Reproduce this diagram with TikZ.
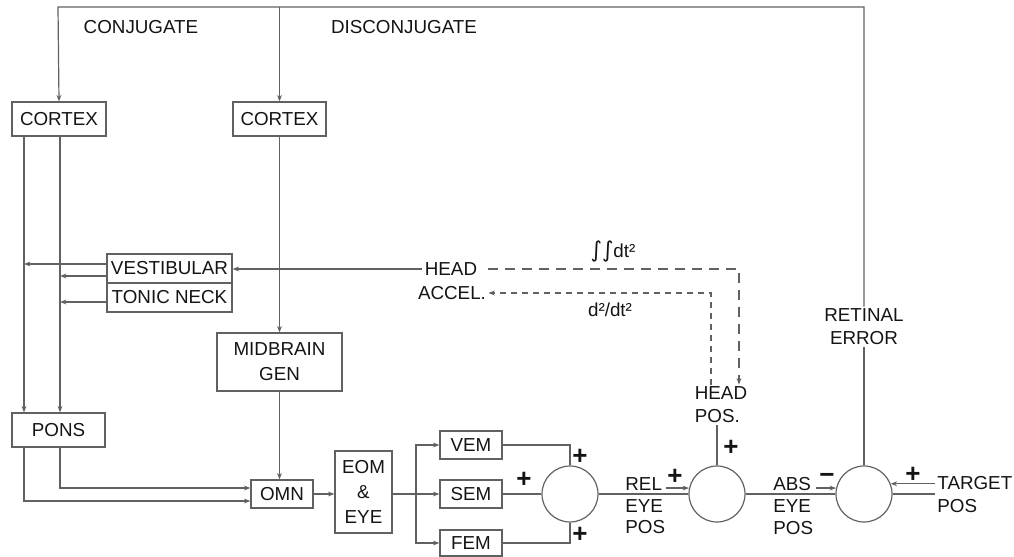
\documentclass[tikz,border=0pt]{standalone}
\usepackage{fontspec}
\setmainfont{Liberation Sans}
\newfontfamily\dejavu{DejaVu Sans}
\usetikzlibrary{arrows.meta,calc}
\definecolor{linec}{gray}{0.38}
\definecolor{txtc}{gray}{0.08}
\begin{document}
\begin{tikzpicture}[x=0.5pt,y=-0.5pt,
  every node/.style={font=\fontsize{9.4}{11.5}\selectfont, text=txtc},
  bx/.style={draw=linec, line width=0.6pt, inner sep=0pt, align=center},
  sum/.style={draw=linec, line width=0.6pt, circle, minimum size=28pt, inner sep=0pt},
  conn/.style={draw=linec, line width=0.6pt},
  arr/.style={conn, -{Stealth[length=3.2pt,width=2.4pt]}},
  lbl/.style={inner sep=1pt},
  sgn/.style={font=\fontsize{13}{13}\bfseries\selectfont, inner sep=0pt},
  dlong/.style={dash pattern=on 5pt off 3.5pt},
  dshort/.style={dash pattern=on 3pt off 2.5pt},
  boxfont/.style={font=\fontsize{9.4}{12.5}\selectfont},
  trifont/.style={font=\fontsize{9.4}{10.8}\selectfont}
]
\useasboundingbox (0,0) rectangle (1014,557);

% boxes
\node[bx, minimum width=47pt, minimum height=17pt] (cortL) at (59,119) {CORTEX};
\node[bx, minimum width=46.5pt, minimum height=17pt] (cortR) at (279.5,119) {CORTEX};
\node[bx, minimum width=62.5pt, minimum height=14.5pt] (vest) at (169.5,268.5) {VESTIBULAR};
\node[bx, minimum width=62.5pt, minimum height=14.5pt] (tonic) at (169.5,297.5) {TONIC NECK};
\node[bx, boxfont, minimum width=62.5pt, minimum height=29pt] (mid) at (279.5,362) {MIDBRAIN\\GEN};
\node[bx, minimum width=46.5pt, minimum height=17pt] (pons) at (58.5,430) {PONS};
\node[bx, minimum width=31pt, minimum height=14pt] (omn) at (282,494) {OMN};
\node[bx, boxfont, minimum width=28.5pt, minimum height=41pt] (eom) at (363.5,492) {EOM\\\&\\EYE};
\node[bx, minimum width=31pt, minimum height=14pt] (vem) at (471,445) {VEM};
\node[bx, minimum width=31pt, minimum height=14pt] (sem) at (471,494) {SEM};
\node[bx, minimum width=31pt, minimum height=13pt] (fem) at (471,543) {FEM};
\node[sum] (c1) at (570,494) {};
\node[sum] (c2) at (717,494) {};
\node[sum] (c3) at (864,494) {};

% labels
\node (conj) at (141,27) {CONJUGATE};
\node (disc) at (404,27) {DISCONJUGATE};
\node[lbl] (headA) at (451,269) {HEAD};
\node[lbl] (accel) at (452,293) {ACCEL.};
\node[lbl, align=left] (hpos) at (721,405) {HEAD\\POS.};
\node[lbl, align=center] (ret) at (864,327) {RETINAL\\ERROR};
\node (integ) at (613,252) {{\dejavu\fontsize{11}{11}\selectfont ∫∫}dt²};
\node (deriv) at (610,310) {d²/dt²};
\node[lbl, trifont, align=left, anchor=west] (rel) at (623,506) {REL\\EYE\\POS};
\node[lbl, trifont, align=left, anchor=west] (abs) at (771,506) {ABS\\EYE\\POS};
\node[lbl, align=left, anchor=west] (tgt) at (935,495) {TARGET\\POS};

% signs
\node[sgn] (p1) at (580,457) {+};
\node[sgn] (p2) at (524,480) {+};
\node[sgn] (p3) at (580,535) {+};
\node[sgn] (p4) at (675,477) {+};
\node[sgn] (p5) at (731,448) {+};
\node[sgn] (m1) at (827,478) {−};
\node[sgn] (p6) at (913,475) {+};

% helper coordinates
\coordinate (tl) at (58,7);
\coordinate (tm) at (279.5,7);
\coordinate (tr) at (864,7);
\coordinate (xa) at (24,0);
\coordinate (xb) at (60,0);
\coordinate (sp) at (416,494);
\coordinate (dA) at (739,269);
\coordinate (dB) at (711,293);

% top feedback
\draw[arr] (ret.north) -- (tr) -- (tl) -- (cortL.north);
\draw[arr] (tm) -- (cortR.north);
\draw[conn] (c3.north) -- (ret.south);

% left side
\draw[arr] (xa |- cortL.south) -- (xa |- pons.north);
\draw[arr] (xb |- cortL.south) -- (xb |- pons.north);
\coordinate (v1) at ([yshift=2.25pt]vest.west);
\coordinate (v2) at ([yshift=-3.75pt]vest.west);
\coordinate (v3) at ([yshift=-2.25pt]tonic.west);
\draw[arr] (v1) -- (v1 -| xa);
\draw[arr] (v2) -- (v2 -| xb);
\draw[arr] (v3) -- (v3 -| xb);
\draw[arr] (headA.west) -- (headA.west -| vest.east);

% middle column
\draw[arr] (cortR.south) -- (cortR.south |- mid.north);
\draw[arr] (mid.south) -- (mid.south |- omn.north);
\draw[arr] (xb |- pons.south) |- ([yshift=3pt]omn.west);
\draw[arr] (xa |- pons.south) |- ([yshift=-3.5pt]omn.west);
\draw[arr] (omn.east) -- (omn.east -| eom.west);
\draw[conn] (sp -| eom.east) -- (sp);
\draw[arr] (sp) |- (vem.west);
\draw[arr] (sp) -- (sem.west);
\draw[arr] (sp) |- (fem.west);

% summing junctions
\draw[conn] (vem.east) -| (c1.north);
\draw[conn] (sem.east) -- (c1.west);
\draw[conn] (fem.east) -| (c1.south);
\draw[conn] (c1.east) -- (c2.west);
\draw[conn] (c2.east) -- (c3.west);
\draw[arr] ([xshift=-11.5pt]c2.168) -- (c2.168);
\draw[arr] ([xshift=-10pt]c3.168) -- (c3.168);
\draw[conn] (hpos.south -| c2.north) -- (c2.north);
\draw[arr] (tgt.west |- c3.21) -- (c3.21);
\draw[conn] (c3.east) -- (c3.east -| tgt.west);

% dashed head paths
\draw[arr, dlong, shorten <=4pt] (headA.east) -- (dA) -- (dA |- hpos.north);
\draw[arr, dshort] (dB |- hpos.north) -- (dB) -- (accel.east);
\end{tikzpicture}
\end{document}
